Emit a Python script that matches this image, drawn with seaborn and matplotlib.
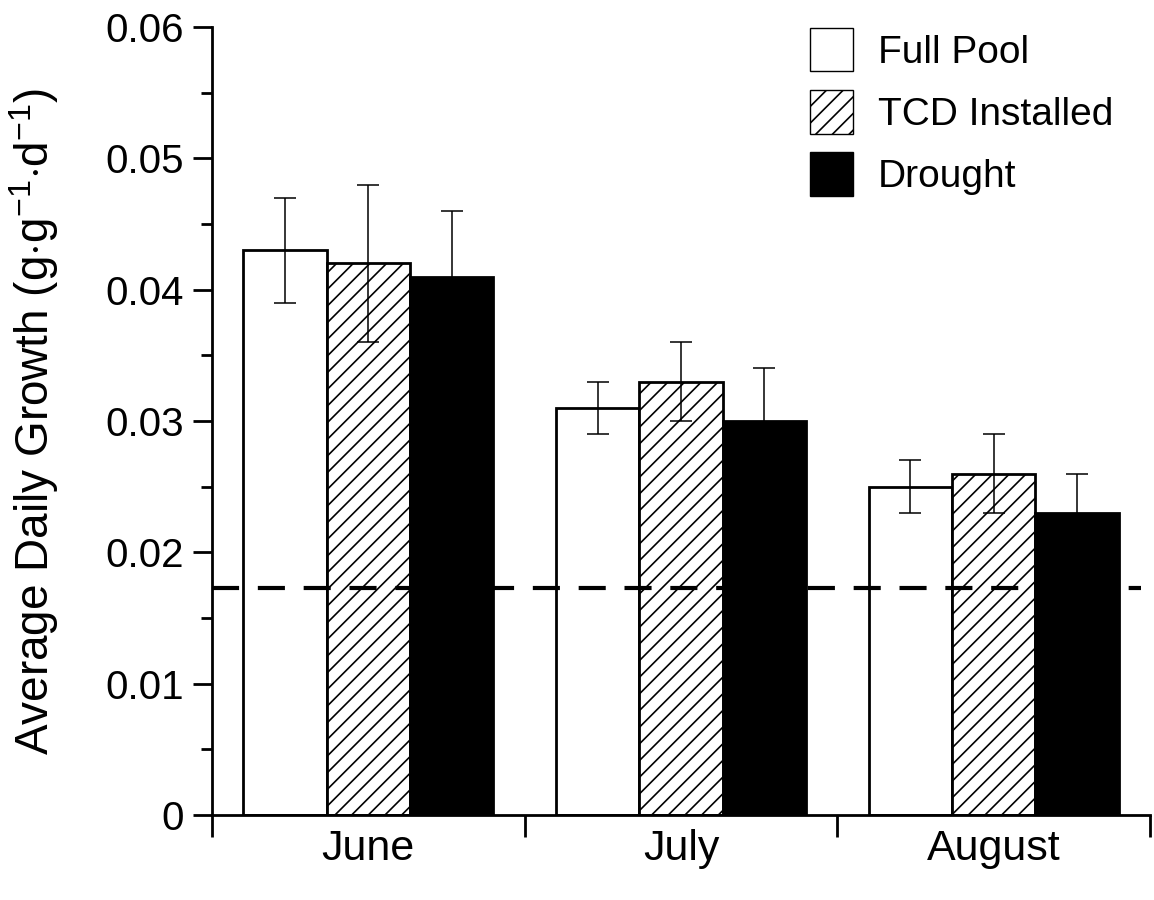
import numpy as np
import pandas as pd
import matplotlib
matplotlib.use("Agg")
import matplotlib.pyplot as plt
import seaborn as sns
from matplotlib.patches import Patch
from matplotlib.ticker import FixedLocator, FuncFormatter

months = ["June", "July", "August"]
scenarios = ["Full Pool", "TCD Installed", "Drought"]
growth = {
    "Full Pool":     [0.043, 0.031, 0.025],
    "TCD Installed": [0.042, 0.033, 0.026],
    "Drought":       [0.041, 0.030, 0.023],
}
growth_err = {
    "Full Pool":     [0.004, 0.002, 0.002],
    "TCD Installed": [0.006, 0.003, 0.003],
    "Drought":       [0.005, 0.004, 0.003],
}
maintenance_level = 0.0173

rows = []
for s in scenarios:
    for m, v, e in zip(months, growth[s], growth_err[s]):
        rows.append({"Month": m, "Scenario": s, "Growth": v, "Err": e})
df = pd.DataFrame(rows)

sns.set_theme(style="ticks")
plt.rcParams["font.family"] = ["Liberation Sans", "DejaVu Sans"]
plt.rcParams["mathtext.fontset"] = "custom"
plt.rcParams["mathtext.rm"] = "Liberation Sans"
plt.rcParams["mathtext.it"] = "Liberation Sans:italic"
plt.rcParams["hatch.linewidth"] = 1.2
plt.rcParams["text.color"] = "black"
plt.rcParams["xtick.color"] = "black"
plt.rcParams["ytick.color"] = "black"
plt.rcParams["axes.labelcolor"] = "black"

fig = plt.figure(figsize=(11.54, 9.0), dpi=100)
ax = fig.add_axes([0.1837, 0.0944, 0.8128, 0.8756])

fills = {"Full Pool": "white", "TCD Installed": "white", "Drought": "black"}
hatches = {"Full Pool": "", "TCD Installed": "//", "Drought": ""}

sns.barplot(data=df, x="Month", y="Growth", hue="Scenario", order=months,
            hue_order=scenarios, palette=fills, errorbar=None, width=0.8,
            edgecolor="black", linewidth=2, saturation=1, legend=False, ax=ax)

# style bars and add error bars at each bar's centre
for container, s in zip(ax.containers, scenarios):
    xs, ys = [], []
    for patch, v in zip(container.patches, growth[s]):
        patch.set_hatch(hatches[s])
        patch.set_edgecolor("black")
        patch.set_zorder(2)
        xs.append(patch.get_x() + patch.get_width() / 2)
        ys.append(v)
    ax.errorbar(xs, ys, yerr=growth_err[s], fmt="none", ecolor="black",
                elinewidth=1.1, capsize=8, capthick=1.1, zorder=3)

ax.axhline(maintenance_level, xmin=0.0, xmax=0.99, color="black", lw=3,
           dashes=(6.5, 4.5), zorder=4)

ax.set_xlim(-0.5, 2.5)
ax.set_ylim(0, 0.06)

# x: boundary ticks between months, labels at month centres
ax.xaxis.set_major_locator(FixedLocator([-0.5, 0.5, 1.5, 2.5]))
ax.xaxis.set_minor_locator(FixedLocator([0, 1, 2]))
ax.set_xticklabels([], minor=False)
ax.set_xticklabels(months, minor=True)
ax.tick_params(axis="x", which="major", length=16, width=2, direction="out")
ax.tick_params(axis="x", which="minor", length=0, pad=10, labelsize=31)

ax.set_yticks(np.arange(0, 0.0601, 0.01))
ax.yaxis.set_minor_locator(FixedLocator(np.arange(0.005, 0.06, 0.01)))
ax.yaxis.set_major_formatter(FuncFormatter(lambda v, p: "0" if abs(v) < 1e-9 else f"{v:.2f}"))
ax.tick_params(axis="y", which="major", length=14, width=2, direction="out",
               labelsize=29, pad=6)
ax.tick_params(axis="y", which="minor", length=8, width=2, direction="out")

ax.set_xlabel("")
ax.set_ylabel(r"Average Daily Growth (g$\cdot$g$^{-1}$$\cdot$d$^{-1}$)",
              fontsize=33, labelpad=32)

for side in ("top", "right"):
    ax.spines[side].set_visible(False)
for side in ("left", "bottom"):
    ax.spines[side].set_linewidth(2)
    ax.spines[side].set_color("black")

handles = [Patch(facecolor=fills[s], edgecolor="black", hatch=hatches[s], lw=1)
           for s in scenarios]
ax.legend(handles, scenarios, loc="upper left", bbox_to_anchor=(0.6375, 0.999),
          frameon=False, fontsize=28, handlelength=1.1, handleheight=1.35,
          handletextpad=0.64, labelspacing=0.48, borderpad=0, borderaxespad=0)

fig.savefig("out.png", dpi=100)
